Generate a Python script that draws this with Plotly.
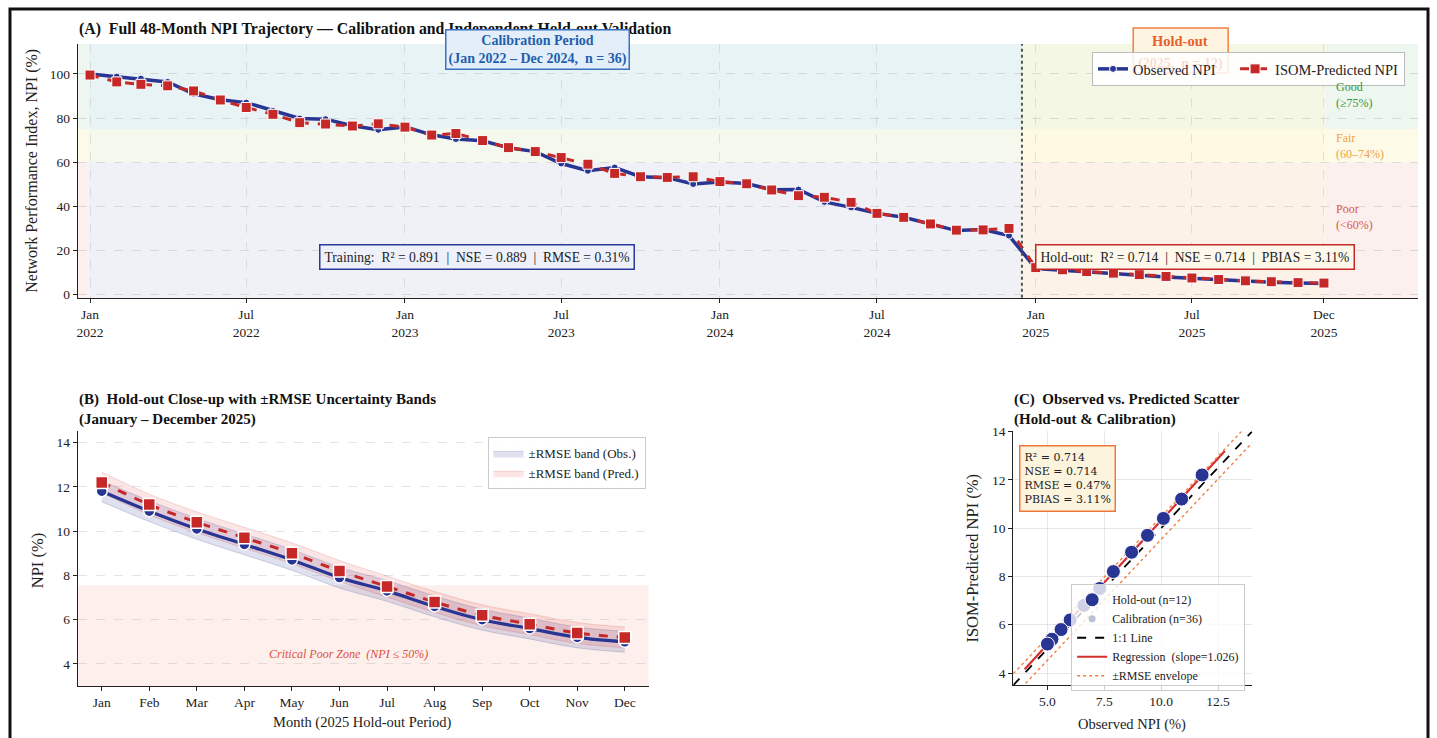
import numpy as np
import pandas as pd
import plotly.graph_objects as go

# ---------------- data ----------------
months = pd.date_range("2022-01-01", periods=48, freq="MS")

obs_cal = [100.0, 98.8, 97.9, 96.4, 91.0, 88.3, 87.0, 83.3, 79.8, 79.5, 76.5, 74.7,
           76.0, 72.4, 70.5, 69.7, 66.5, 64.8, 59.4, 56.1, 57.6, 53.4, 53.0, 50.1,
           51.0, 50.3, 47.5, 47.6, 42.0, 39.5, 36.8, 35.0, 32.0, 29.0, 29.5, 26.7]
pred_cal = [99.5, 96.4, 95.3, 94.6, 92.3, 88.2, 84.8, 81.7, 77.9, 77.3, 76.4, 77.4,
            75.9, 72.3, 73.0, 69.8, 66.6, 64.8, 62.1, 59.1, 54.9, 53.4, 53.1, 53.4,
            51.2, 50.2, 47.4, 44.8, 44.1, 41.8, 36.8, 35.0, 32.0, 29.2, 29.3, 30.0]

hold_labels = ["Jan", "Feb", "Mar", "Apr", "May", "Jun", "Jul", "Aug", "Sep", "Oct", "Nov", "Dec"]
obs_hold = [11.8, 10.9, 10.1, 9.4, 8.7, 7.9, 7.3, 6.6, 6.0, 5.6, 5.2, 5.0]
pred_hold = [12.2, 11.2, 10.4, 9.7, 9.0, 8.2, 7.5, 6.8, 6.2, 5.8, 5.4, 5.2]
rmse_hold = 0.47

a_tick_dates = ["2022-01-01", "2022-07-01", "2023-01-01", "2023-07-01", "2024-01-01",
                "2024-07-01", "2025-01-01", "2025-07-01", "2025-12-01"]
a_tick_text = ["Jan<br>2022", "Jul<br>2022", "Jan<br>2023", "Jul<br>2023", "Jan<br>2024",
               "Jul<br>2024", "Jan<br>2025", "Jul<br>2025", "Dec<br>2025"]

obs_all = obs_cal + obs_hold
pred_all = pred_cal + pred_hold

# ---------------- styling ----------------
W, H = 1437, 738
NAVY = "#283593"
RED = "#c62828"
SERIF = "Liberation Serif"
DSERIF = "DejaVu Serif"
NB = "\u00a0"

def px(x):
    return x / W

def py(y):
    yy = (y - 6) / 0.985
    return 1 - yy / H

fig = go.Figure()

# ---------------- Panel A ----------------
fig.add_trace(go.Scatter(
    x=months, y=obs_all, mode="lines+markers", name="Observed NPI" + NB * 4,
    line=dict(color=NAVY, width=3.5),
    marker=dict(symbol="circle", size=7, color=NAVY, line=dict(color="white", width=1)),
    xaxis="x", yaxis="y", legend="legend"))
fig.add_trace(go.Scatter(
    x=months, y=pred_all, mode="lines+markers", name="ISOM-Predicted NPI",
    line=dict(color=RED, width=3, dash="dash"),
    marker=dict(symbol="square", size=10, color=RED, line=dict(color="white", width=1)),
    xaxis="x", yaxis="y", legend="legend"))

# ---------------- Panel B ----------------
xb = list(range(12))
ob = np.array(obs_hold)
pb = np.array(pred_hold)
fig.add_trace(go.Scatter(x=xb, y=ob - rmse_hold, mode="lines", line=dict(width=0.8, color="rgba(40,53,147,0.25)", shape="spline"),
                         showlegend=False, hoverinfo="skip", xaxis="x2", yaxis="y2"))
fig.add_trace(go.Scatter(x=xb, y=ob + rmse_hold, mode="lines", fill="tonexty",
                         fillcolor="rgba(40,53,147,0.15)", line=dict(width=0.8, color="rgba(40,53,147,0.25)", shape="spline"),
                         name="±RMSE band (Obs.)", xaxis="x2", yaxis="y2", legend="legend2"))
fig.add_trace(go.Scatter(x=xb, y=pb - rmse_hold, mode="lines", line=dict(width=0.8, color="rgba(198,40,40,0.2)", shape="spline"),
                         showlegend=False, hoverinfo="skip", xaxis="x2", yaxis="y2"))
fig.add_trace(go.Scatter(x=xb, y=pb + rmse_hold, mode="lines", fill="tonexty",
                         fillcolor="rgba(229,57,53,0.13)", line=dict(width=0.8, color="rgba(198,40,40,0.2)", shape="spline"),
                         name="±RMSE band (Pred.)", xaxis="x2", yaxis="y2", legend="legend2"))
fig.add_trace(go.Scatter(x=xb, y=obs_hold, mode="lines+markers", showlegend=False,
                         line=dict(color=NAVY, width=3.2, shape="spline"),
                         marker=dict(symbol="circle", size=11, color=NAVY, line=dict(color="white", width=1.5)),
                         xaxis="x2", yaxis="y2"))
fig.add_trace(go.Scatter(x=xb, y=pred_hold, mode="lines+markers", showlegend=False,
                         line=dict(color=RED, width=3, dash="dash", shape="spline"),
                         marker=dict(symbol="square", size=12, color=RED, line=dict(color="white", width=1.5)),
                         xaxis="x2", yaxis="y2"))

# ---------------- Panel C ----------------
lo, hi = 3.5, 14.0
slope, intercept = np.polyfit(obs_hold, pred_hold, 1)
xr = np.array([min(obs_hold) - 1, max(obs_hold) + 1])
diag = np.array([lo, hi])

fig.add_trace(go.Scatter(x=diag, y=diag, mode="lines", name="1:1 Line",
                         line=dict(color="black", width=1.8, dash="dash"), xaxis="x3", yaxis="y3",
                         legend="legend3", legendrank=3))
fig.add_trace(go.Scatter(x=xr, y=slope * xr + intercept, mode="lines", name="Regression  (slope=1.026)",
                         line=dict(color="#d32f2f", width=2.2), xaxis="x3", yaxis="y3",
                         legend="legend3", legendrank=4))
fig.add_trace(go.Scatter(x=diag, y=diag + rmse_hold, mode="lines", name="±RMSE envelope",
                         line=dict(color="#f08040", width=1.4, dash="dot"), xaxis="x3", yaxis="y3",
                         legend="legend3", legendrank=5))
fig.add_trace(go.Scatter(x=diag, y=diag - rmse_hold, mode="lines", showlegend=False,
                         line=dict(color="#f08040", width=1.4, dash="dot"), xaxis="x3", yaxis="y3"))
fig.add_trace(go.Scatter(x=obs_cal, y=pred_cal, mode="markers", name="Calibration (n=36)",
                         marker=dict(color="#b9c3d3", size=7), xaxis="x3", yaxis="y3",
                         legend="legend3", legendrank=2))
fig.add_trace(go.Scatter(x=obs_hold, y=pred_hold, mode="markers", name="Hold-out (n=12)",
                         marker=dict(color=NAVY, size=14, line=dict(color="white", width=1)),
                         xaxis="x3", yaxis="y3", legend="legend3", legendrank=1))

# ---------------- shapes ----------------
shapes = []
seg_bounds = [("2021-12-01", "2021-12-30"), ("2021-12-30", "2024-12-16"),
              ("2024-12-16", "2025-12-03"), ("2025-12-03", "2026-04-30")]
seg_colors = [
    ("#edf6ef", "#fdfbe8", "#fcf0ee"),
    ("#e7f3f4", "#f5f8ec", "#f0f1f6"),
    ("#f5f7e5", "#fdf9e3", "#fdf2e7"),
    ("#edf6ef", "#fdfbe8", "#fcf0ee"),
]
zones = [(75, 120), (60, 75), (-5, 60)]
for (x0, x1), cols in zip(seg_bounds, seg_colors):
    for (y0, y1), c in zip(zones, cols):
        shapes.append(dict(type="rect", xref="x", yref="y", x0=x0, x1=x1, y0=y0, y1=y1,
                           fillcolor=c, line=dict(width=0), layer="below"))
shapes.append(dict(type="line", xref="x", yref="y domain", x0="2024-12-16", x1="2024-12-16", y0=0, y1=1,
                   line=dict(color="#555555", width=2, dash="dot")))
# hold-out label box (sits behind the legend, as in the reference)
shapes.append(dict(type="rect", xref="paper", yref="paper", x0=px(1133), x1=px(1228), y0=py(72), y1=py(27),
                   fillcolor="#fdf5e2", line=dict(color="#f08040", width=1.5), layer="above"))
# critical zone panel B
shapes.append(dict(type="rect", xref="x2 domain", yref="y2", x0=0, x1=1, y0=2, y1=7.55,
                   fillcolor="#fcefec", line=dict(width=0), layer="below"))
# outer frame
shapes.append(dict(type="rect", xref="paper", yref="paper", x0=px(9), x1=px(1428), y0=-0.05, y1=py(8),
                   line=dict(color="#111111", width=3), fillcolor="rgba(0,0,0,0)"))

# ---------------- annotations ----------------
ann = []
ann.append(dict(xref="paper", yref="paper", x=px(76), y=py(28), xanchor="left", yanchor="middle",
                text="<b>(A)" + NB * 2 + "Full 48-Month NPI Trajectory — Calibration and Independent Hold-out Validation</b>",
                showarrow=False, font=dict(family=SERIF, size=15.8, color="#111111")))
ann.append(dict(xref="paper", yref="paper", x=px(537), y=py(49), xanchor="center", yanchor="middle",
                text="<b>Calibration Period<br>(Jan 2022 – Dec 2024," + NB * 2 + "n = 36)</b>",
                showarrow=False, font=dict(family=SERIF, size=14, color="#1f5fae"),
                bgcolor="#e3eef9", bordercolor="#3a70c0", borderwidth=1.5, borderpad=2))
ann.append(dict(xref="paper", yref="paper", x=px(1180), y=py(40), xanchor="center", yanchor="middle",
                text="<b>Hold-out</b>", showarrow=False, font=dict(family=SERIF, size=14.5, color="#e8602c")))
ann.append(dict(xref="paper", yref="paper", x=px(1180), y=py(63), xanchor="center", yanchor="middle",
                text="<b>(2025," + NB * 2 + "n = 12)</b>", showarrow=False,
                font=dict(family=SERIF, size=14, color="rgba(232,96,44,0.22)")))
ann.append(dict(xref="paper", yref="paper", x=px(476), y=py(256), xanchor="center", yanchor="middle",
                text="Training:" + NB * 2 + "R² = 0.891" + NB * 2 + "|" + NB * 2 + "NSE = 0.889" + NB * 2 + "|" + NB * 2 + "RMSE = 0.31%",
                showarrow=False, font=dict(family=SERIF, size=13.6, color="#222222"),
                bgcolor="#eef0fa", bordercolor="#2b3a9a", borderwidth=1.5, borderpad=4))
ann.append(dict(xref="paper", yref="paper", x=px(1195), y=py(256), xanchor="center", yanchor="middle",
                text="Hold-out:" + NB * 2 + "R² = 0.714" + NB * 2 + "|" + NB * 2 + "NSE = 0.714" + NB * 2 + "|" + NB * 2 + "PBIAS = 3.11%",
                showarrow=False, font=dict(family=SERIF, size=13.6, color="#222222"),
                bgcolor="#fdf8ea", bordercolor="#c62828", borderwidth=1.5, borderpad=4))
for txt, ypix, col in [("Good<br>(≥75%)", 94, "#3a963a"), ("Fair<br>(60–74%)", 145, "#f0a04b"),
                       ("Poor<br>(<60%)", 216, "#e05545")]:
    ann.append(dict(xref="paper", yref="paper", x=px(1334), y=py(ypix), xanchor="left", yanchor="middle",
                    text=txt, align="left", showarrow=False, font=dict(family=SERIF, size=12, color=col)))
ann.append(dict(xref="paper", yref="paper", x=px(31), y=py(170), xanchor="center", yanchor="middle",
                text="Network Performance Index, NPI (%)", textangle=-90, showarrow=False,
                font=dict(family=SERIF, size=16, color="#222222")))
# panel B
ann.append(dict(xref="paper", yref="paper", x=px(76), y=py(409), xanchor="left", yanchor="middle",
                text="<b>(B)" + NB * 2 + "Hold-out Close-up with ±RMSE Uncertainty Bands<br>(January – December 2025)</b>",
                align="left", showarrow=False, font=dict(family=SERIF, size=15, color="#111111")))
ann.append(dict(xref="x2", yref="y2", x=5.2, y=4.45, xanchor="center", yanchor="middle",
                text="<i>Critical Poor Zone" + NB * 2 + "(NPI ≤ 50%)</i>", showarrow=False,
                font=dict(family=SERIF, size=12, color="#e0503c")))
ann.append(dict(xref="paper", yref="paper", x=px(36), y=py(560), xanchor="center", yanchor="middle",
                text="NPI (%)", textangle=-90, showarrow=False, font=dict(family=SERIF, size=16.5, color="#222222")))
ann.append(dict(xref="paper", yref="paper", x=px(362), y=py(722), xanchor="center", yanchor="middle",
                text="Month (2025 Hold-out Period)", showarrow=False, font=dict(family=SERIF, size=14.5, color="#222222")))
# panel C
ann.append(dict(xref="paper", yref="paper", x=px(1012), y=py(409), xanchor="left", yanchor="middle",
                text="<b>(C)" + NB * 2 + "Observed vs. Predicted Scatter<br>(Hold-out & Calibration)</b>",
                align="left", showarrow=False, font=dict(family=SERIF, size=15, color="#111111")))
ann.append(dict(xref="paper", yref="paper", x=px(1019), y=py(445), xanchor="left", yanchor="top",
                text="R² = 0.714<br>NSE = 0.714<br>RMSE = 0.47%<br>PBIAS = 3.11%", align="left",
                showarrow=False, font=dict(family=DSERIF, size=11, color="#222222"),
                bgcolor="#fdf4dd", bordercolor="#f07838", borderwidth=1.5, borderpad=4))
ann.append(dict(xref="paper", yref="paper", x=px(972), y=py(558), xanchor="center", yanchor="middle",
                text="ISOM-Predicted NPI (%)", textangle=-90, showarrow=False, font=dict(family=SERIF, size=16.5, color="#222222")))
ann.append(dict(xref="paper", yref="paper", x=px(1132), y=py(724), xanchor="center", yanchor="middle",
                text="Observed NPI (%)", showarrow=False, font=dict(family=SERIF, size=14.5, color="#222222")))

axis_common = dict(showline=True, linecolor="#222222", linewidth=1.3, ticks="outside", ticklen=4,
                   tickcolor="#222222", mirror=False, zeroline=False,
                   tickfont=dict(family=SERIF, size=13.5, color="#222222"))

fig.update_layout(
    width=W, height=H, margin=dict(l=0, r=0, t=0, b=0),
    paper_bgcolor="white", plot_bgcolor="rgba(0,0,0,0)",
    shapes=shapes, annotations=ann,
    xaxis=dict(domain=[px(77), px(1418)], anchor="y", type="date",
               range=["2021-12-18", "2026-03-20"], tickvals=a_tick_dates, ticktext=a_tick_text,
               showgrid=True, gridcolor="rgba(170,170,170,0.3)", griddash="dash", **axis_common),
    yaxis=dict(domain=[py(297), py(43)], anchor="x", range=[-1.4, 113.6], tickvals=[0, 20, 40, 60, 80, 100],
               showgrid=True, gridcolor="rgba(170,170,170,0.35)", griddash="dash", **axis_common),
    xaxis2=dict(domain=[px(77), px(648)], anchor="y2", range=[-0.5, 11.5], tickvals=xb, ticktext=hold_labels,
                showgrid=False, **axis_common),
    yaxis2=dict(domain=[py(686), py(431)], anchor="x2", range=[3.0, 14.5], tickvals=[4, 6, 8, 10, 12, 14],
                showgrid=True, gridcolor="rgba(170,170,170,0.3)", griddash="dash", **axis_common),
    xaxis3=dict(domain=[px(1013), px(1252)], anchor="y3", range=[lo, hi], tickvals=[5.0, 7.5, 10.0, 12.5],
                ticktext=["5.0", "7.5", "10.0", "12.5"],
                showgrid=True, gridcolor="rgba(200,200,200,0.45)", **axis_common),
    yaxis3=dict(domain=[py(685), py(431)], anchor="x3", range=[lo, hi], tickvals=[4, 6, 8, 10, 12, 14],
                showgrid=True, gridcolor="rgba(200,200,200,0.45)", **axis_common),
    legend=dict(orientation="h", x=px(1405), xanchor="right", y=py(51), yanchor="top",
                bgcolor="rgba(255,255,255,0.86)", bordercolor="#bbbbbb", borderwidth=1,
                font=dict(family=SERIF, size=14.5, color="#222222")),
    legend2=dict(x=px(645), xanchor="right", y=py(437), yanchor="top", traceorder="normal",
                 bgcolor="rgba(255,255,255,0.9)", bordercolor="#cccccc", borderwidth=1,
                 font=dict(family=SERIF, size=13, color="#222222")),
    legend3=dict(x=px(1245), xanchor="right", y=py(584), yanchor="top", traceorder="normal",
                 bgcolor="rgba(255,255,255,0.78)", bordercolor="#cccccc", borderwidth=1,
                 font=dict(family=SERIF, size=12, color="#222222"), tracegroupgap=0),
    showlegend=True,
)

fig.write_html("out.html", config={"displayModeBar": False},
               post_script="document.body.style.margin='0px';document.body.style.overflow='hidden';")
